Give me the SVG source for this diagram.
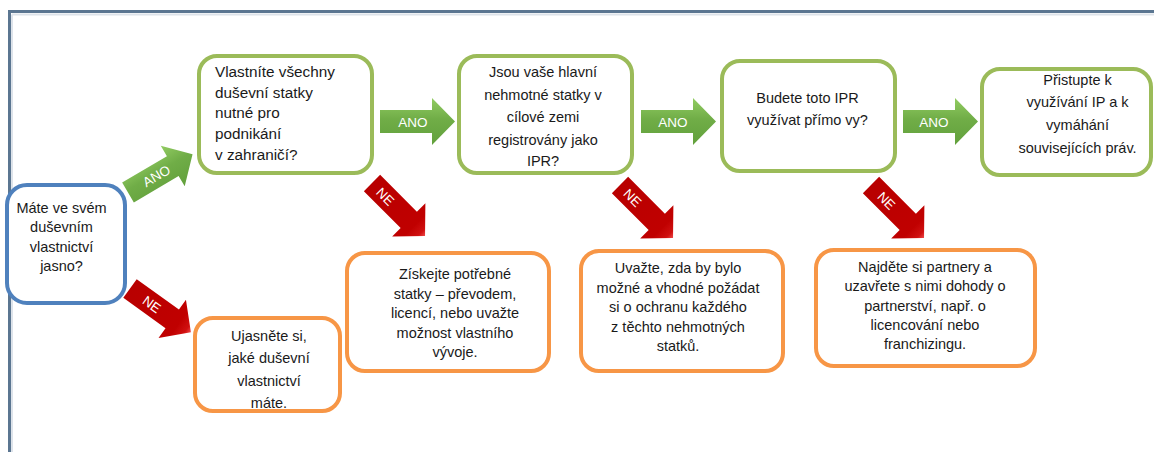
<svg xmlns="http://www.w3.org/2000/svg" width="1154" height="452" viewBox="0 0 1154 452">
<defs>
<style>
.t{font-family:"Liberation Sans",Arial,sans-serif;font-size:14.5px;fill:#1a1a1a;text-anchor:middle}
.tl{text-anchor:start;font-size:15.3px}
.lab{font-family:"Liberation Sans",Arial,sans-serif;font-size:13.5px;fill:#ffffff;text-anchor:middle}
.blue{fill:#ffffff;stroke:#4f81bd;stroke-width:4}
.green{fill:#ffffff;stroke:#9bbb59;stroke-width:4}
.orange{fill:#ffffff;stroke:#f79646;stroke-width:4}
.ga{fill:url(#gGreen)}
.ra{fill:url(#gRed)}
</style>
<linearGradient id="gGreen" x1="0" y1="0" x2="0" y2="1">
<stop offset="0" stop-color="#92cc62"/>
<stop offset="0.45" stop-color="#70ad47"/>
<stop offset="1" stop-color="#62a03c"/>
</linearGradient>
<linearGradient id="gRed" x1="0" y1="0" x2="1" y2="0">
<stop offset="0" stop-color="#b80000"/>
<stop offset="0.8" stop-color="#c00000"/>
<stop offset="0.93" stop-color="#d01010"/>
<stop offset="1" stop-color="#ef4a4a"/>
</linearGradient>
<path id="arr" d="M0,-11.5 H52 V-23.5 L75,0 L52,23.5 V11.5 H0 Z"/>
</defs>
<rect width="1154" height="452" fill="#ffffff"/>
<g id="frame">
<path d="M12,14.5 H1154 M12,14.5 V452" fill="none" stroke="#dde3ea" stroke-width="2"/>
<path d="M9.5,452 V11.5 H1154" fill="none" stroke="#5b7691" stroke-width="3"/>
</g>
<g id="connectors">
<g transform="translate(128,192.5) rotate(-30.6)"><use href="#arr" class="ga"/><text class="lab" x="33" y="5">ANO</text></g>
<g transform="translate(380,121.5)"><use href="#arr" class="ga"/><text class="lab" x="33" y="5">ANO</text></g>
<g transform="translate(641,121.5)"><use href="#arr" class="ga"/><text class="lab" x="32" y="5">ANO</text></g>
<g transform="translate(903,121.5)"><use href="#arr" class="ga"/><text class="lab" x="31" y="5">ANO</text></g>
<g transform="translate(130,288.5) rotate(35.7)"><use href="#arr" class="ra"/><text class="lab" x="27" y="5">NE</text></g>
<g transform="translate(372,183) rotate(45)"><use href="#arr" class="ra"/><text class="lab" x="19" y="5">NE</text></g>
<g transform="translate(620,185) rotate(45)"><use href="#arr" class="ra"/><text class="lab" x="18" y="5">NE</text></g>
<g transform="translate(871,185) rotate(45)"><use href="#arr" class="ra"/><text class="lab" x="22" y="5">NE</text></g>
</g>
<g id="n-start">
<rect class="blue" x="7" y="185" width="118" height="118" rx="20"/>
<text class="t"><tspan x="61.5" y="213">Máte ve svém</tspan><tspan x="61.5" y="232">duševním</tspan><tspan x="61.5" y="252">vlastnictví</tspan><tspan x="61.5" y="271">jasno?</tspan></text>
</g>
<g id="n-q1">
<rect class="green" x="199" y="56" width="173" height="117" rx="18"/>
<text class="t tl"><tspan x="215" y="77">Vlastníte všechny</tspan><tspan x="215" y="98">duševní statky</tspan><tspan x="215" y="118">nutné pro</tspan><tspan x="215" y="139">podnikání</tspan><tspan x="215" y="160">v zahraničí?</tspan></text>
</g>
<g id="n-q2">
<rect class="green" x="459" y="56" width="173" height="117" rx="18"/>
<text class="t"><tspan x="543" y="77">Jsou vaše hlavní</tspan><tspan x="543" y="100">nehmotné statky v</tspan><tspan x="543" y="122">cílové zemi</tspan><tspan x="543" y="145">registrovány jako</tspan><tspan x="543" y="166">IPR?</tspan></text>
</g>
<g id="n-q3">
<rect class="green" x="722" y="61" width="173" height="110" rx="18"/>
<text class="t"><tspan x="807.5" y="103">Budete toto IPR</tspan><tspan x="807.5" y="125">využívat přímo vy?</tspan></text>
</g>
<g id="n-end">
<rect class="green" x="982" y="69" width="169" height="106" rx="18"/>
<text class="t"><tspan x="1077.5" y="85">Přistupte k</tspan><tspan x="1077.5" y="107">využívání IP a k</tspan><tspan x="1077.5" y="130">vymáhání</tspan><tspan x="1077.5" y="153">souvisejících práv.</tspan></text>
</g>
<g id="n-no1">
<rect class="orange" x="195" y="318" width="145" height="93" rx="18"/>
<text class="t"><tspan x="269" y="341">Ujasněte si,</tspan><tspan x="269" y="363">jaké duševní</tspan><tspan x="269" y="386">vlastnictví</tspan><tspan x="269" y="408">máte.</tspan></text>
</g>
<g id="n-no2">
<rect class="orange" x="347" y="253" width="202" height="118" rx="18"/>
<text class="t"><tspan x="455" y="279">Získejte potřebné</tspan><tspan x="455" y="298.5">statky – převodem,</tspan><tspan x="455" y="318">licencí, nebo uvažte</tspan><tspan x="455" y="337.5">možnost vlastního</tspan><tspan x="455" y="356.5">vývoje.</tspan></text>
</g>
<g id="n-no3">
<rect class="orange" x="581" y="251" width="202" height="120" rx="18"/>
<text class="t"><tspan x="678" y="273">Uvažte, zda by bylo</tspan><tspan x="678" y="292.5">možné a vhodné požádat</tspan><tspan x="678" y="312">si o ochranu každého</tspan><tspan x="678" y="331.5">z těchto nehmotných</tspan><tspan x="678" y="351">statků.</tspan></text>
</g>
<g id="n-no4">
<rect class="orange" x="816" y="250" width="219" height="116" rx="18"/>
<text class="t"><tspan x="925" y="271.5">Najděte si partnery a</tspan><tspan x="925" y="291">uzavřete s nimi dohody o</tspan><tspan x="925" y="310.5">partnerství, např. o</tspan><tspan x="925" y="330">licencování nebo</tspan><tspan x="925" y="349">franchizingu.</tspan></text>
</g>
</svg>
